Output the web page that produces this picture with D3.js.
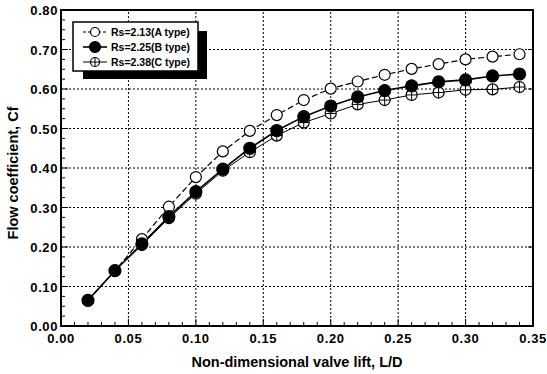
<!DOCTYPE html>
<meta charset="utf-8">
<html lang="en">
<style>
body { margin: 0; background: #fff; }
svg text { font-family: "Liberation Sans", Arial, sans-serif; font-weight: bold; fill: #000; }
.grid { stroke: #000; stroke-width: 1px; stroke-dasharray: 2,2; }
.frame { fill: none; stroke: #000; stroke-width: 2px; }
.tick { stroke: #000; stroke-width: 1px; }
.ticklabel { font-size: 13px; letter-spacing: 0.6px; }
.title { font-size: 14.5px; }
.legtext { font-size: 10.5px; }
</style>
<body>
<div id="chart"></div>
<script src="https://cdn.jsdelivr.net/npm/d3@7"></script>
<script>
// L/D values and flow coefficient per seat type
var lift = [0.02, 0.04, 0.06, 0.08, 0.10, 0.12, 0.14, 0.16, 0.18, 0.20, 0.22, 0.24, 0.26, 0.28, 0.30, 0.32, 0.34];
var cfA = [0.065, 0.14, 0.22, 0.302, 0.377, 0.442, 0.494, 0.534, 0.572, 0.601, 0.619, 0.636, 0.651, 0.663, 0.675, 0.682, 0.688];
var cfB = [0.065, 0.14, 0.208, 0.277, 0.34, 0.397, 0.45, 0.495, 0.53, 0.557, 0.58, 0.596, 0.608, 0.618, 0.623, 0.633, 0.638];
var cfC = [0.065, 0.14, 0.205, 0.273, 0.335, 0.393, 0.44, 0.482, 0.515, 0.538, 0.561, 0.572, 0.585, 0.591, 0.598, 0.599, 0.605];
var labels = ["Rs=2.13(A type)", "Rs=2.25(B type)", "Rs=2.38(C type)"];
var xTicks = [0, 0.05, 0.10, 0.15, 0.20, 0.25, 0.30, 0.35];
var yTicks = [0, 0.1, 0.2, 0.3, 0.4, 0.5, 0.6, 0.7, 0.8];

var width = 547, height = 374,
    margin = {top: 10, right: 14, bottom: 48, left: 61};

var svg = d3.select("#chart").append("svg")
    .attr("width", width)
    .attr("height", height);

var x = d3.scaleLinear().domain([0, 0.35]).range([margin.left, width - margin.right]);
var y = d3.scaleLinear().domain([0, 0.8]).range([height - margin.bottom, margin.top]);

// dotted grid
svg.selectAll(".gx").data(xTicks.slice(1, -1)).enter().append("line")
    .attr("class", "grid")
    .attr("x1", d => x(d)).attr("x2", d => x(d))
    .attr("y1", y(0)).attr("y2", y(0.8));
svg.selectAll(".gy").data(yTicks.slice(1, -1)).enter().append("line")
    .attr("class", "grid")
    .attr("x1", x(0)).attr("x2", x(0.35))
    .attr("y1", d => y(d)).attr("y2", d => y(d));

// inward ticks, major + minor
var xMinor = d3.range(0, 0.3501, 0.01);
var yMinor = d3.range(0, 0.8001, 0.025);
svg.selectAll(".tx").data(xMinor).enter().append("line")
    .attr("class", "tick")
    .attr("x1", d => x(d)).attr("x2", d => x(d))
    .attr("y1", y(0)).attr("y2", (d, i) => y(0) - (i % 5 == 0 ? 7 : 4));
svg.selectAll(".ty").data(yMinor).enter().append("line")
    .attr("class", "tick")
    .attr("x1", x(0)).attr("x2", (d, i) => x(0) + (i % 4 == 0 ? 7 : 4))
    .attr("y1", d => y(d)).attr("y2", d => y(d));
svg.selectAll(".tyr").data(yTicks).enter().append("line")
    .attr("class", "tick")
    .attr("x1", x(0.35)).attr("x2", x(0.35) - 5)
    .attr("y1", d => y(d)).attr("y2", d => y(d));

svg.append("rect").attr("class", "frame")
    .attr("x", x(0)).attr("y", y(0.8))
    .attr("width", x(0.35) - x(0)).attr("height", y(0) - y(0.8));

// tick labels
svg.selectAll(".lx").data(xTicks).enter().append("text")
    .attr("class", "ticklabel")
    .attr("x", d => x(d)).attr("y", y(0) + 17)
    .attr("text-anchor", "middle")
    .text(d => d3.format(".2f")(d));
svg.selectAll(".ly").data(yTicks).enter().append("text")
    .attr("class", "ticklabel")
    .attr("x", x(0) - 3).attr("y", d => y(d) + 5)
    .attr("text-anchor", "end")
    .text(d => d3.format(".2f")(d));

svg.append("text").attr("class", "title")
    .attr("x", 297).attr("y", 367)
    .attr("text-anchor", "middle")
    .text("Non-dimensional valve lift, L/D");
svg.append("text").attr("class", "title")
    .attr("transform", "translate(18,173) rotate(-90)")
    .attr("text-anchor", "middle")
    .text("Flow coefficient, Cf");

// series
var series = [
  {vals: cfA, dash: "6,3", sw: 1.2, marker: "open"},
  {vals: cfB, dash: null, sw: 1.6, marker: "filled"},
  {vals: cfC, dash: null, sw: 1.0, marker: "cross"}
];

var line = d3.line()
    .x(function(d, i) { return x(lift[i]); })
    .y(function(d) { return y(d); });

function drawMarker(g, type, cx, cy, r) {
  var c = g.append("circle").attr("cx", cx).attr("cy", cy).attr("r", r)
    .attr("stroke", "#000").attr("stroke-width", 1.2)
    .attr("fill", type == "filled" ? "#000" : "#fff");
  if (type == "cross") {
    g.append("line").attr("x1", cx - r).attr("x2", cx + r).attr("y1", cy).attr("y2", cy)
      .attr("stroke", "#000").attr("stroke-width", 1);
    g.append("line").attr("x1", cx).attr("x2", cx).attr("y1", cy - r).attr("y2", cy + r)
      .attr("stroke", "#000").attr("stroke-width", 1);
  }
}

// draw order: C, A, then B on top (filled dots show at the shared first points)
var order = [2, 0, 1];
order.forEach(function(k) {
  var s = series[k];
  svg.append("path").datum(s.vals)
    .attr("fill", "none").attr("stroke", "#000")
    .attr("stroke-width", s.sw)
    .attr("stroke-dasharray", s.dash)
    .attr("d", line);
});
order.forEach(function(k) {
  var s = series[k];
  var g = svg.append("g");
  s.vals.forEach(function(v, i) {
    drawMarker(g, s.marker, x(lift[i]), y(v), k == 1 ? 6 : 5.5);
  });
});

// legend with drop shadow
var lg = svg.append("g");
lg.append("rect").attr("x", 83).attr("y", 31).attr("width", 124).attr("height", 48).attr("fill", "#000");
lg.append("rect").attr("x", 73).attr("y", 22).attr("width", 125).attr("height", 49)
  .attr("fill", "#fff").attr("stroke", "#000").attr("stroke-width", 1.5);
series.forEach(function(s, k) {
  var ly = 32 + k * 15;
  lg.append("line").attr("x1", 83).attr("x2", 107).attr("y1", ly).attr("y2", ly)
    .attr("stroke", "#000").attr("stroke-width", s.sw)
    .attr("stroke-dasharray", s.dash ? "3,2" : null);
  drawMarker(lg, s.marker, 95, ly, k == 1 ? 5.5 : 4.5);
  lg.append("text").attr("class", "legtext")
    .attr("x", 111).attr("y", ly + 4)
    .text(labels[k]);
});
</script>
</body>
</html>
